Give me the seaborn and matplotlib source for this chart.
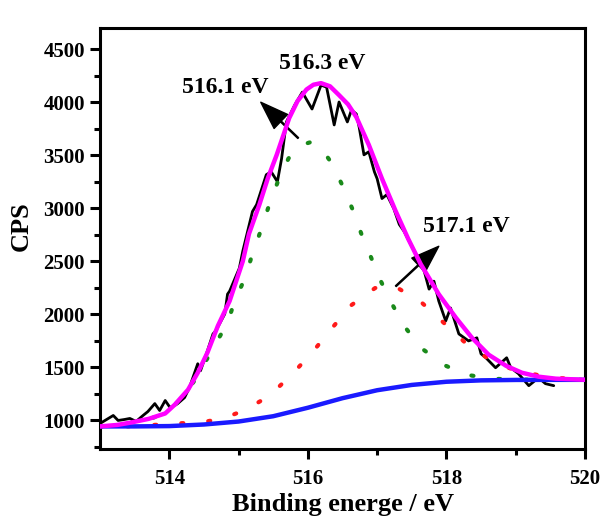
import matplotlib
matplotlib.use('Agg')
import matplotlib.pyplot as plt
import seaborn as sns

# Raw XPS spectrum (black)
raw_x = [513.00, 513.19, 513.26, 513.35, 513.43, 513.52, 513.62, 513.69, 513.79, 513.86,
         513.94, 514.01, 514.12, 514.22, 514.29, 514.41, 514.45, 514.55, 514.63, 514.67,
         514.80, 514.84, 514.87, 515.01, 515.06, 515.20, 515.26, 515.40, 515.47, 515.56,
         515.62, 515.69, 515.81, 515.92, 516.06, 516.19, 516.27, 516.38, 516.45, 516.57,
         516.63, 516.70, 516.74, 516.81, 516.88, 516.96, 517.00, 517.07, 517.14, 517.24,
         517.32, 517.39, 517.56, 517.68, 517.75, 517.82, 517.89, 517.99, 518.06, 518.18,
         518.32, 518.44, 518.50, 518.57, 518.71, 518.87, 518.93, 519.04, 519.19, 519.33,
         519.43, 519.55]
raw_y = [972, 1047, 1000, 1009, 1019, 991, 1047, 1084, 1159, 1094,
         1188, 1122, 1159, 1216, 1310, 1535, 1469, 1657, 1816, 1844,
         2004, 2191, 2219, 2435, 2595, 2970, 3035, 3317, 3345, 3251,
         3467, 3814, 3973, 4095, 3936, 4161, 4142, 3786, 4002, 3814,
         3927, 3889, 3767, 3504, 3533, 3345, 3279, 3092, 3129, 2998,
         2848, 2782, 2566, 2407, 2238, 2313, 2126, 1938, 2060, 1816,
         1750, 1779, 1628, 1591, 1497, 1591, 1497, 1441, 1328, 1403,
         1347, 1328]

# Envelope fit (magenta)
fit_x = [513.00, 513.25, 513.45, 513.70, 513.94, 514.08, 514.27, 514.41, 514.55, 514.70,
         514.87, 515.06, 515.15, 515.30, 515.42, 515.55, 515.73, 515.85, 515.98, 516.08,
         516.19, 516.32, 516.45, 516.58, 516.70, 516.88, 517.07, 517.27, 517.45, 517.63,
         517.89, 518.14, 518.37, 518.61, 518.86, 519.09, 519.33, 519.58, 519.94, 520.00]
fit_y = [944, 958, 981, 1015, 1066, 1150, 1290, 1450, 1640, 1891,
         2126, 2500, 2760, 3035, 3280, 3504, 3850, 4010, 4120, 4165,
         4180, 4150, 4067, 3980, 3860, 3598, 3279, 2970, 2710, 2473,
         2190, 1966, 1779, 1620, 1516, 1450, 1413, 1394, 1385, 1384]

# Component 516.1 eV (green)
g_x = [513.0, 513.5, 514.0, 514.37, 514.70, 514.84, 514.94, 515.09, 515.20, 515.32,
       515.43, 515.56, 515.72, 515.88, 516.05, 516.20, 516.34, 516.50, 516.64, 516.77,
       516.90, 517.04, 517.20, 517.39, 517.63, 517.99, 518.29, 518.65, 519.0, 519.5, 520.0]
g_y = [944, 965, 1080, 1380, 1760, 1920, 2120, 2340, 2570, 2790,
       3010, 3240, 3470, 3590, 3626, 3560, 3429, 3214, 2998, 2763,
       2557, 2332, 2116, 1891, 1685, 1516, 1431, 1394, 1385, 1383, 1383]

# Component 517.1 eV (red)
r_x = [513.0, 513.5, 514.09, 514.45, 514.78, 515.11, 515.45, 515.78, 516.07, 516.35,
       516.63, 516.97, 517.13, 517.30, 517.65, 517.98, 518.29, 518.65, 519.0, 519.5, 520.0]
r_y = [944, 945, 972, 981, 1019, 1103, 1235, 1441, 1647, 1872,
       2088, 2248, 2268, 2248, 2107, 1910, 1722, 1563, 1470, 1405, 1385]

# Background (blue)
bg_x = [513.0, 513.5, 514.0, 514.5, 515.0, 515.5, 516.0, 516.5, 517.0, 517.5,
        518.0, 518.5, 519.0, 519.5, 520.0]
bg_y = [944, 944, 947, 962, 990, 1040, 1120, 1210, 1285, 1335,
        1365, 1378, 1382, 1383, 1383]

sns.set_theme(style='ticks')
plt.rcParams['font.family'] = ['Liberation Serif', 'DejaVu Serif']
plt.rcParams['font.weight'] = 'bold'
for key in ['text.color', 'axes.labelcolor', 'xtick.color', 'ytick.color', 'axes.edgecolor']:
    plt.rcParams[key] = 'black'

fig = plt.figure(figsize=(6.03, 5.18), dpi=100)
ax = fig.add_axes([0.166, 0.133, 0.804, 0.813])

dots = (0, (0.5, 6))
sns.lineplot(x=raw_x, y=raw_y, ax=ax, color='black', lw=2.0, zorder=2)
sns.lineplot(x=g_x, y=g_y, ax=ax, color='#1a8a1a', lw=3, linestyle=dots,
             dash_capstyle='round', zorder=3)
sns.lineplot(x=r_x, y=r_y, ax=ax, color='#ff1a1a', lw=3, linestyle=dots,
             dash_capstyle='round', zorder=3)
sns.lineplot(x=bg_x, y=bg_y, ax=ax, color='#1a1aff', lw=3.2, zorder=4)
sns.lineplot(x=fit_x, y=fit_y, ax=ax, color='#ff00ff', lw=3.2, zorder=5)

ax.set_xlim(513, 520)
ax.set_ylim(730, 4700)
ax.set_xticks([514, 516, 518, 520])
ax.set_xticks([515, 517, 519], minor=True)
ax.set_yticks([1000, 1500, 2000, 2500, 3000, 3500, 4000, 4500])
ax.set_yticks([750, 1250, 1750, 2250, 2750, 3250, 3750, 4250], minor=True)
ax.tick_params(which='major', length=7, width=2.2, labelsize=15, color='black',
               labelcolor='black')
ax.tick_params(which='minor', length=4, width=2.2, color='black')
ax.tick_params(axis='x', which='major', pad=7)
ax.tick_params(axis='y', which='major', pad=4)
for lab in ax.get_xticklabels() + ax.get_yticklabels():
    lab.set_fontweight('bold')
for s in ax.spines.values():
    s.set_linewidth(2.2)
    s.set_color('black')

ax.set_xlabel('Binding energe / eV', fontsize=19, fontweight='bold', labelpad=3)
ax.set_ylabel('CPS', fontsize=19, fontweight='bold', labelpad=6)
ax.yaxis.set_label_coords(-0.138, 0.53)

arrow = dict(facecolor='black', edgecolor='black', width=0.8, headwidth=14,
             headlength=20, shrink=0)
ax.annotate('', xy=(515.32, 4000), xytext=(515.86, 3662), arrowprops=arrow)
ax.text(514.81, 4141, '516.1 eV', fontsize=17, fontweight='bold', ha='center', va='center')
ax.text(516.21, 4366, '516.3 eV', fontsize=17, fontweight='bold', ha='center', va='center')
ax.annotate('', xy=(517.89, 2642), xytext=(517.27, 2266), arrowprops=arrow)
ax.text(518.29, 2829, '517.1 eV', fontsize=17, fontweight='bold', ha='center', va='center')

fig.savefig('out.png', dpi=100, facecolor='white')
